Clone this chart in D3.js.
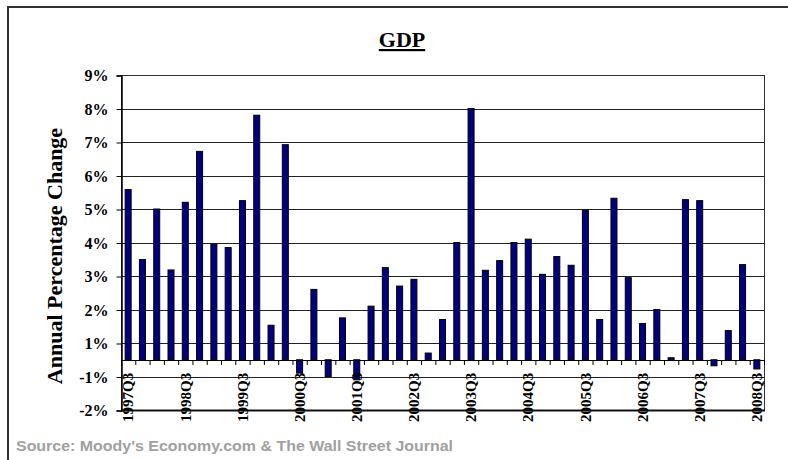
<!DOCTYPE html>
<html>
<head>
<meta charset="utf-8">
<script src="https://cdn.jsdelivr.net/npm/d3@7"></script>
<style>
  html, body { margin: 0; padding: 0; background: #fff; }
  svg { display: block; }
</style>
</head>
<body>
<svg id="chart" width="788" height="460"></svg>
<script>
// ---- Data ----
const categories = [
  "1997Q3","1997Q4","1998Q1","1998Q2","1998Q3","1998Q4","1999Q1","1999Q2","1999Q3","1999Q4",
  "2000Q1","2000Q2","2000Q3","2000Q4","2001Q1","2001Q2","2001Q3","2001Q4","2002Q1","2002Q2",
  "2002Q3","2002Q4","2003Q1","2003Q2","2003Q3","2003Q4","2004Q1","2004Q2","2004Q3","2004Q4",
  "2005Q1","2005Q2","2005Q3","2005Q4","2006Q1","2006Q2","2006Q3","2006Q4","2007Q1","2007Q2",
  "2007Q3","2007Q4","2008Q1","2008Q2","2008Q3"
];
const gdpChange = [
  5.58, 3.49, 5.0, 3.18, 5.2, 6.72, 3.95, 3.85, 5.25, 7.8,
  1.53, 6.92, -0.8, 2.6, -1.0, 1.75, -1.1, 2.1, 3.25, 2.7,
  2.9, 0.4, 1.7, 4.0, 8.0, 3.17, 3.46, 4.0, 4.1, 3.05,
  3.58, 3.32, 4.96, 1.7, 5.32, 2.95, 1.58, 2.0, 0.12, 5.28,
  5.25, -0.36, 1.37, 3.34, -0.55
];
const xTickLabels = ["1997Q3","1998Q3","1999Q3","2000Q3","2001Q3","2002Q3","2003Q3","2004Q3","2005Q3","2006Q3","2007Q3","2008Q3"];
const yTickValues = [9, 8, 7, 6, 5, 4, 3, 2, 1, -1, -2];

// ---- Layout ----
const plot = { left: 121, right: 764, top: 75, bottom: 410 };
const serif = '"Liberation Serif", "Times New Roman", Times, serif';
const sans = '"Liberation Sans", Arial, Helvetica, sans-serif';

const svg = d3.select("#chart");

// outer frame (continues past the window edges)
svg.append("rect")
  .attr("x", 8).attr("y", 7).attr("width", 900).attr("height", 600)
  .attr("fill", "#fff").attr("stroke", "#333").attr("stroke-width", 2);

// Scales: the value axis skips 0% — labelled ticks are evenly spaced
const y = d3.scaleLinear()
  .domain([-2, -1, 1, 9])
  .range([plot.bottom, plot.bottom - 33.5, plot.top + 8 * 33.5, plot.top]);

const x = d3.scaleBand()
  .domain(categories)
  .range([plot.left, plot.right])
  .padding(0);

const barW = x.bandwidth() * 0.42;

// Gridlines
svg.append("g")
  .selectAll("line")
  .data(yTickValues)
  .join("line")
  .attr("x1", plot.left).attr("x2", plot.right)
  .attr("y1", d => Math.round(y(d)) + 0.5).attr("y2", d => Math.round(y(d)) + 0.5)
  .attr("stroke", "#222").attr("stroke-width", 1);

// Plot border
svg.append("rect")
  .attr("x", plot.left + 0.5).attr("y", Math.round(plot.top) + 0.5)
  .attr("width", plot.right - plot.left).attr("height", plot.bottom - plot.top)
  .attr("fill", "none").attr("stroke", "#333").attr("stroke-width", 1);

// Thick bottom line
svg.append("line")
  .attr("x1", plot.left).attr("x2", plot.right + 1)
  .attr("y1", plot.bottom + 0.5).attr("y2", plot.bottom + 0.5)
  .attr("stroke", "#111").attr("stroke-width", 2);

// Y axis
const yAxis = d3.axisLeft(y)
  .tickValues(yTickValues)
  .tickFormat(d => d + "%")
  .tickSize(5)
  .tickPadding(8);
const yg = svg.append("g")
  .attr("transform", `translate(${plot.left + 0.5},0.5)`)
  .call(yAxis);
yg.select(".domain").attr("stroke", "#000").attr("stroke-width", 1.5);
yg.selectAll(".tick line").attr("stroke", "#000");
yg.selectAll(".tick text")
  .attr("font-family", serif).attr("font-weight", "bold")
  .attr("font-size", 16).attr("fill", "#000");

// Bars
const y0 = y(0);
svg.append("g")
  .selectAll("rect")
  .data(categories.map((c, i) => ({ c, v: gdpChange[i] })))
  .join("rect")
  .attr("x", d => x(d.c) + (x.bandwidth() - barW) / 2)
  .attr("width", barW)
  .attr("y", d => Math.min(y(d.v), y0))
  .attr("height", d => Math.abs(y(d.v) - y0))
  .attr("fill", "#000080")
  .attr("stroke", "#000").attr("stroke-width", 1);

// Category axis at zero
svg.append("line")
  .attr("x1", plot.left).attr("x2", plot.right)
  .attr("y1", Math.round(y0) + 0.5).attr("y2", Math.round(y0) + 0.5)
  .attr("stroke", "#000").attr("stroke-width", 1.2);

svg.append("g")
  .selectAll("line")
  .data(categories.concat(["__end"]))
  .join("line")
  .attr("x1", d => (d === "__end" ? plot.right : x(d)) + 0.5)
  .attr("x2", d => (d === "__end" ? plot.right : x(d)) + 0.5)
  .attr("y1", Math.round(y0))
  .attr("y2", Math.round(y0) + 5)
  .attr("stroke", "#000").attr("stroke-width", 1);

// Category labels (rotated)
svg.append("g")
  .selectAll("text")
  .data(xTickLabels)
  .join("text")
  .attr("transform", d => `translate(${x(d) + x.bandwidth() / 2},${y0 + 13}) rotate(-90)`)
  .attr("text-anchor", "end")
  .attr("dy", "0.35em")
  .attr("font-family", serif).attr("font-weight", "bold")
  .attr("font-size", 15).attr("fill", "#000")
  .text(d => d);

// Title
svg.append("text")
  .attr("x", 402).attr("y", 47)
  .attr("text-anchor", "middle")
  .attr("font-family", serif).attr("font-weight", "bold")
  .attr("font-size", 22)
  .attr("text-decoration", "underline")
  .text("GDP");

// Y axis title
svg.append("text")
  .attr("transform", "translate(62,256) rotate(-90)")
  .attr("text-anchor", "middle")
  .attr("font-family", serif).attr("font-weight", "bold")
  .attr("font-size", 22).attr("fill", "#000")
  .text("Annual Percentage Change");

// Source
svg.append("text")
  .attr("x", 16).attr("y", 451)
  .attr("font-family", sans).attr("font-weight", "bold")
  .attr("font-size", 15.5).attr("fill", "#a0a0a0")
  .attr("textLength", 437).attr("lengthAdjust", "spacingAndGlyphs")
  .text("Source: Moody's Economy.com & The Wall Street Journal");
</script>
</body>
</html>
